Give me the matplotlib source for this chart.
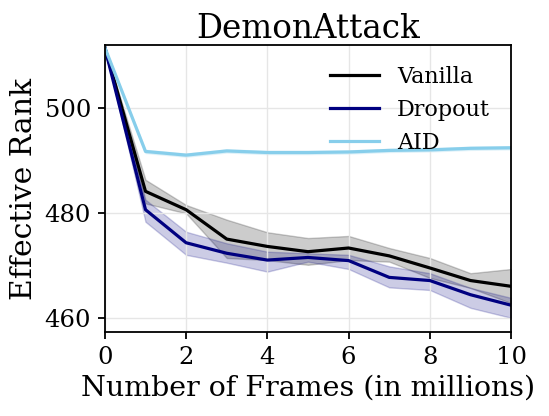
import numpy as np
import matplotlib.pyplot as plt

plt.rcParams['font.family'] = 'DejaVu Serif'

frames = [0, 1, 2, 3, 4, 5, 6, 7, 8, 9, 10]

vanilla = [511.5, 484.1, 480.6, 475.0, 473.6, 472.6, 473.3, 471.8, 469.5, 467.1, 466.0]
vanilla_hi = [511.5, 486.3, 481.5, 478.7, 476.3, 475.2, 475.6, 473.3, 471.4, 468.5, 469.3]
vanilla_lo = [511.5, 481.8, 479.9, 471.4, 471.0, 470.1, 471.0, 470.7, 467.6, 465.7, 462.8]

dropout = [511.5, 480.6, 474.3, 472.3, 471.0, 471.5, 470.9, 467.7, 467.1, 464.4, 462.4]
dropout_hi = [511.5, 482.5, 476.4, 474.2, 472.6, 472.3, 472.0, 469.8, 468.5, 465.7, 463.8]
dropout_lo = [511.5, 478.3, 472.0, 470.5, 468.8, 470.7, 469.3, 465.8, 465.3, 461.9, 460.0]

aid = [511.5, 491.7, 491.0, 491.8, 491.5, 491.5, 491.6, 491.9, 492.0, 492.3, 492.4]
aid_hi = [511.5, 492.0, 491.3, 492.1, 491.8, 491.8, 491.9, 492.2, 492.3, 492.6, 492.7]
aid_lo = [511.5, 491.4, 490.7, 491.5, 491.2, 491.2, 491.3, 491.6, 491.7, 492.0, 492.1]

fig, ax = plt.subplots(figsize=(5.49, 4.16), dpi=100)

series = [
    ('Vanilla', vanilla, vanilla_lo, vanilla_hi, 'black'),
    ('Dropout', dropout, dropout_lo, dropout_hi, 'navy'),
    ('AID', aid, aid_lo, aid_hi, 'skyblue'),
]
for name, mean, lo, hi, c in series:
    ax.plot(frames, mean, color=c, linewidth=2.3, label=name)
    ax.fill_between(frames, lo, hi, color=c, alpha=0.2)

ax.set_xlim(0, 10)
ax.set_ylim(457.3, 512)
ax.set_xticks([0, 2, 4, 6, 8, 10])
ax.set_yticks([460, 480, 500])
ax.tick_params(labelsize=17.5, length=5, width=1.3, pad=5)
for s in ax.spines.values():
    s.set_linewidth(1.3)
ax.grid(True, color='#e6e6e6', linewidth=1)
ax.set_title('DemonAttack', fontsize=23.5, pad=5)
ax.set_xlabel('Number of Frames (in millions)', fontsize=20.5, labelpad=4)
ax.set_ylabel('Effective Rank', fontsize=21.5, labelpad=5)
ax.legend(frameon=False, fontsize=16, loc='upper right', handlelength=2.2,
          labelspacing=0.5, borderaxespad=0.55)

fig.subplots_adjust(left=0.191, right=0.931, top=0.892, bottom=0.202)
fig.savefig('out.png')
